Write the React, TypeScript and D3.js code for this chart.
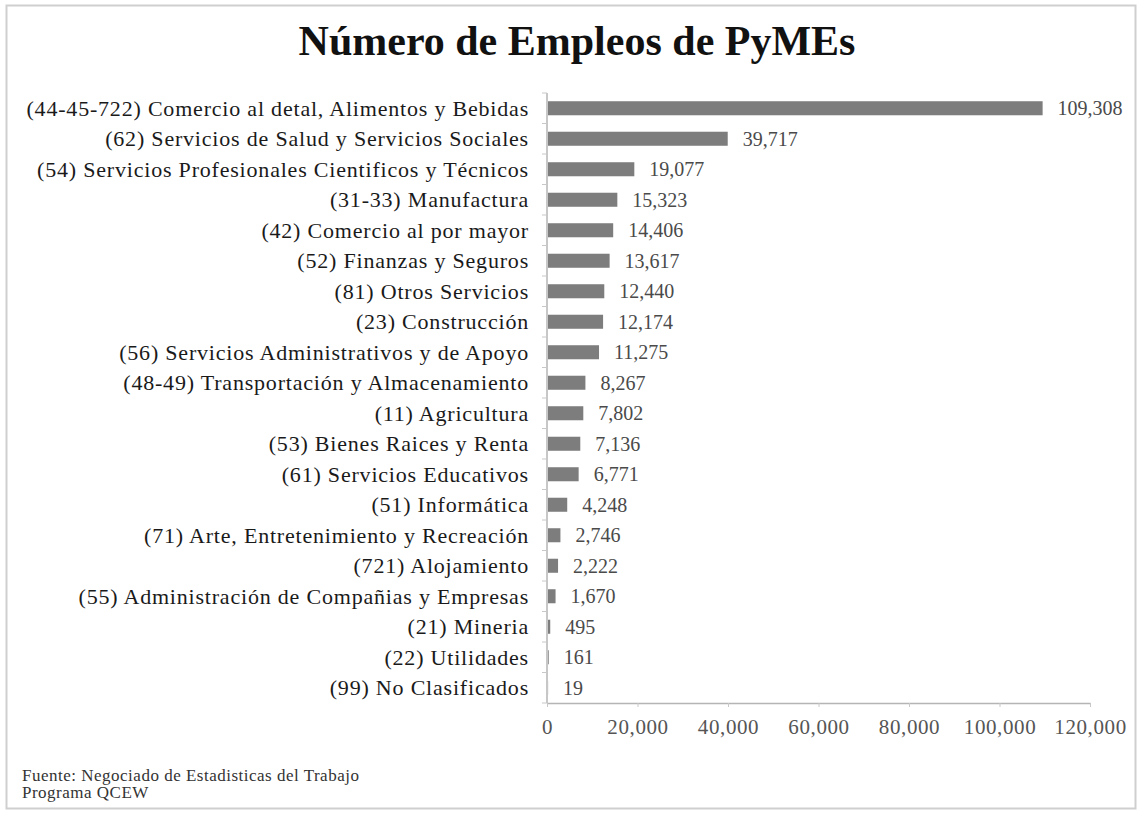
import React, { useEffect, useRef } from 'react';
import * as d3 from 'd3';

// Sector labels (top to bottom) and employment counts
const categories = [
  '(44-45-722) Comercio al detal, Alimentos y Bebidas',
  '(62) Servicios de Salud y Servicios Sociales',
  '(54) Servicios Profesionales Cientificos y Técnicos',
  '(31-33) Manufactura',
  '(42) Comercio al por mayor',
  '(52) Finanzas y Seguros',
  '(81) Otros Servicios',
  '(23) Construcción',
  '(56) Servicios Administrativos y de Apoyo',
  '(48-49) Transportación y Almacenamiento',
  '(11) Agricultura',
  '(53) Bienes Raices y Renta',
  '(61) Servicios Educativos',
  '(51) Informática',
  '(71) Arte, Entretenimiento y Recreación',
  '(721) Alojamiento',
  '(55) Administración de Compañias y Empresas',
  '(21) Mineria',
  '(22) Utilidades',
  '(99) No Clasificados',
];

const empleos = [
  109308, 39717, 19077, 15323, 14406, 13617, 12440, 12174, 11275, 8267,
  7802, 7136, 6771, 4248, 2746, 2222, 1670, 495, 161, 19,
];

const xTicks = [0, 20000, 40000, 60000, 80000, 100000, 120000];

const footer = ['Fuente: Negociado de Estadisticas del Trabajo', 'Programa QCEW'];

const App = () => {
  const svgRef = useRef<SVGSVGElement>(null);

  useEffect(() => {
    const svg = d3.select(svgRef.current);
    svg.selectAll('*').remove();

    const width = 1141;
    const height = 814;
    const margin = { top: 93, right: 51, bottom: 111, left: 547 };
    const font = '"Liberation Serif", "Times New Roman", serif';

    const data = categories.map((c, i) => ({ label: c, value: empleos[i] }));

    // chart frame
    svg.append('rect')
      .attr('x', 6.5)
      .attr('y', 5.5)
      .attr('width', 1129)
      .attr('height', 803)
      .attr('fill', '#fff')
      .attr('stroke', '#cfcfcf')
      .attr('stroke-width', 2);

    svg.append('text')
      .attr('x', 577)
      .attr('y', 55)
      .attr('text-anchor', 'middle')
      .attr('font-family', font)
      .attr('font-weight', 'bold')
      .attr('font-size', 42)
      .attr('fill', '#111')
      .text('Número de Empleos de PyMEs');

    const x = d3.scaleLinear()
      .domain([0, 120000])
      .range([margin.left, width - margin.right]);

    const y = d3.scaleBand()
      .domain(categories)
      .range([margin.top, height - margin.bottom])
      .paddingInner(0.54)
      .paddingOuter(0.27);

    // x axis
    const xAxis = svg.append('g')
      .attr('transform', `translate(0,${height - margin.bottom})`)
      .call(d3.axisBottom(x).tickValues(xTicks).tickFormat(d3.format(',')).tickSize(4).tickPadding(12).tickSizeOuter(0));
    xAxis.select('.domain').attr('stroke', '#b5b5b5').attr('stroke-width', 1.5);
    xAxis.selectAll('line').attr('stroke', '#c8c8c8');
    xAxis.selectAll('text')
      .attr('font-family', font)
      .attr('font-size', 21)
      .attr('letter-spacing', 0.6)
      .attr('fill', '#555');

    // y axis: ticks at band edges
    const yG = svg.append('g').attr('transform', `translate(${margin.left},0)`);
    yG.append('line')
      .attr('y1', margin.top)
      .attr('y2', height - margin.bottom)
      .attr('stroke', '#b5b5b5')
      .attr('stroke-width', 1.5);
    const step = y.step();
    yG.selectAll('line.tick')
      .data(d3.range(categories.length + 1))
      .join('line')
      .attr('class', 'tick')
      .attr('x1', -5)
      .attr('x2', 0)
      .attr('y1', i => margin.top + i * step)
      .attr('y2', i => margin.top + i * step)
      .attr('stroke', '#c8c8c8');

    yG.selectAll('text')
      .data(data)
      .join('text')
      .attr('x', -18)
      .attr('y', d => y(d.label)! + y.bandwidth() / 2)
      .attr('dy', '0.35em')
      .attr('text-anchor', 'end')
      .attr('font-family', font)
      .attr('font-size', 22)
      .attr('letter-spacing', 0.8)
      .attr('fill', '#1a1a1a')
      .text(d => d.label);

    // bars
    svg.append('g')
      .selectAll('rect')
      .data(data)
      .join('rect')
      .attr('x', x(0) + 1)
      .attr('y', d => y(d.label)!)
      .attr('width', d => Math.max(0, x(d.value) - x(0)))
      .attr('height', y.bandwidth())
      .attr('fill', '#7d7d7d');

    // value labels
    svg.append('g')
      .selectAll('text')
      .data(data)
      .join('text')
      .attr('x', d => x(d.value) + 16)
      .attr('y', d => y(d.label)! + y.bandwidth() / 2)
      .attr('dy', '0.35em')
      .attr('font-family', font)
      .attr('font-size', 20)
      .attr('fill', '#4a4a4a')
      .text(d => d3.format(',')(d.value));

    // source note
    svg.append('g')
      .selectAll('text')
      .data(footer)
      .join('text')
      .attr('x', 22)
      .attr('y', (d, i) => 781 + i * 17)
      .attr('font-family', font)
      .attr('font-size', 17)
      .attr('letter-spacing', 0.5)
      .attr('fill', '#333')
      .text(d => d);
  }, []);

  return (
    <div style={{ position: 'absolute', left: 0, top: 0 }}>
      <svg ref={svgRef} width="1141" height="814" style={{ display: 'block' }}></svg>
    </div>
  );
};

export default App;
